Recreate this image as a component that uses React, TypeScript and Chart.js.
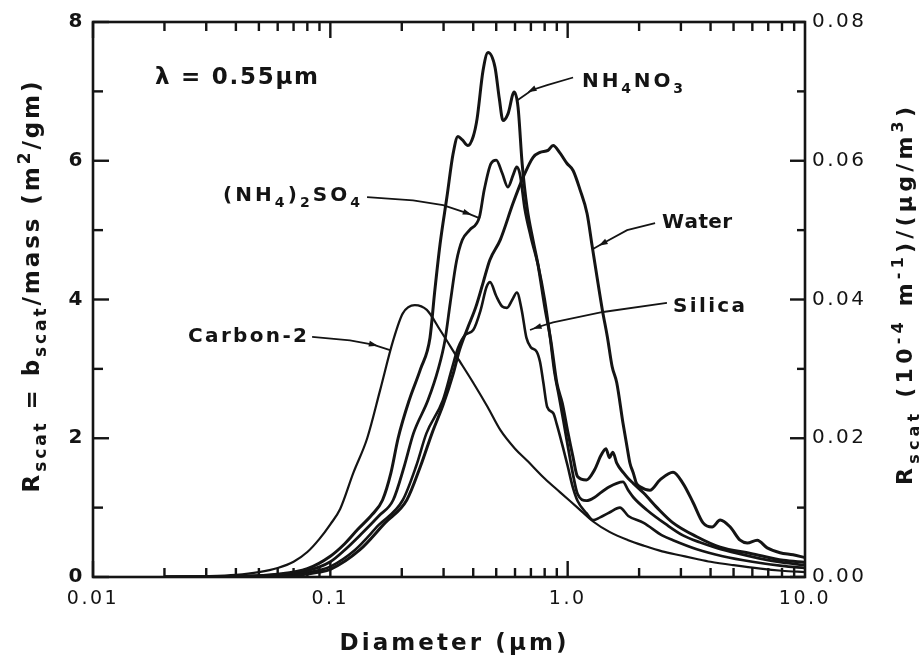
import React, { useEffect, useRef } from "react";
import { Chart, registerables } from "chart.js";

Chart.register(...registerables);

type Pt = [number, number];
type Seg = { t: string; s?: "sub" | "sup" };

// ---------- axis values ----------
const X_MIN = 0.01;
const X_MAX = 10;
const X_TICK_VALUES = [0.01, 0.1, 1, 10];
const X_TICK_LABELS = ["0.01", "0.1", "1.0", "10.0"];
const X_MINOR_MULTIPLES = [1, 2, 3, 4, 5, 6, 7, 8, 9];
const X_DECADES = [0.01, 0.1, 1];
const Y_LEFT_MAX = 8;
const Y_LEFT_STEP = 2;
const Y_RIGHT_MAX = 0.08;
const Y_RIGHT_STEP = 0.02;

// ---------- series: [diameter (µm), R_scat (m²/g)] ----------
const NH4NO3: Pt[] = [
  [0.02, 0], [0.04, 0.01], [0.06, 0.04], [0.08, 0.12], [0.1, 0.3], [0.115, 0.48], [0.13, 0.68],
  [0.15, 0.9], [0.166, 1.11], [0.18, 1.5], [0.193, 2.0], [0.215, 2.55], [0.24, 3.0], [0.263, 3.45],
  [0.275, 4.1], [0.29, 4.8], [0.31, 5.48], [0.329, 6.1], [0.345, 6.35], [0.36, 6.3], [0.38, 6.22],
  [0.4, 6.35], [0.415, 6.6], [0.44, 7.3], [0.462, 7.56], [0.494, 7.35], [0.515, 6.9], [0.534, 6.58],
  [0.561, 6.68], [0.595, 6.99], [0.618, 6.77], [0.643, 5.96], [0.674, 5.33], [0.715, 4.85],
  [0.75, 4.5], [0.8, 3.9], [0.85, 3.4], [0.9, 2.8], [0.95, 2.5], [1.0, 2.1], [1.05, 1.75],
  [1.1, 1.45], [1.2, 1.4], [1.3, 1.55], [1.38, 1.75], [1.45, 1.85], [1.5, 1.72], [1.55, 1.8],
  [1.61, 1.64], [1.72, 1.5], [1.8, 1.42], [1.89, 1.35], [2.09, 1.21], [2.38, 1.0], [2.78, 0.78],
  [3.5, 0.58], [4.39, 0.43], [5.9, 0.34], [8.1, 0.24], [10, 0.21],
];

const NH4_2SO4: Pt[] = [
  [0.02, 0], [0.04, 0.005], [0.06, 0.03], [0.08, 0.09], [0.1, 0.22], [0.115, 0.39], [0.135, 0.62],
  [0.16, 0.88], [0.184, 1.11], [0.205, 1.6], [0.224, 2.07], [0.258, 2.55], [0.285, 3.0],
  [0.304, 3.41], [0.32, 3.95], [0.34, 4.55], [0.36, 4.86], [0.386, 5.0], [0.425, 5.19],
  [0.445, 5.58], [0.475, 5.96], [0.5, 6.01], [0.53, 5.82], [0.56, 5.62], [0.59, 5.8], [0.61, 5.91],
  [0.63, 5.8], [0.66, 5.3], [0.7, 4.9], [0.75, 4.5], [0.8, 4.0], [0.84, 3.5], [0.88, 2.95],
  [0.92, 2.6], [0.96, 2.25], [1.0, 1.9], [1.05, 1.5], [1.1, 1.2], [1.2, 1.1], [1.3, 1.15],
  [1.37, 1.21], [1.5, 1.3], [1.61, 1.35], [1.71, 1.37], [1.8, 1.25], [1.89, 1.15], [2.15, 0.97],
  [2.62, 0.75], [3.06, 0.6], [3.6, 0.5], [4.24, 0.42], [5.2, 0.34], [6.4, 0.27], [8, 0.21], [10, 0.17],
];

const WATER: Pt[] = [
  [0.02, 0], [0.05, 0.003], [0.07, 0.02], [0.09, 0.07], [0.1, 0.11], [0.133, 0.39], [0.17, 0.78],
  [0.21, 1.11], [0.24, 1.6], [0.268, 2.07], [0.3, 2.5], [0.33, 2.94], [0.35, 3.27], [0.38, 3.6],
  [0.41, 3.89], [0.44, 4.24], [0.47, 4.57], [0.52, 4.86], [0.589, 5.39], [0.649, 5.76],
  [0.715, 6.05], [0.765, 6.12], [0.826, 6.15], [0.868, 6.22], [0.929, 6.11], [0.994, 5.96],
  [1.054, 5.86], [1.128, 5.58], [1.207, 5.24], [1.267, 4.78], [1.33, 4.32], [1.4, 3.85],
  [1.47, 3.46], [1.54, 3.03], [1.61, 2.8], [1.71, 2.22], [1.78, 1.87], [1.83, 1.64], [1.89, 1.5],
  [1.95, 1.35], [2.02, 1.3], [2.22, 1.25], [2.45, 1.4], [2.78, 1.51], [3.06, 1.35], [3.38, 1.07],
  [3.72, 0.78], [4.06, 0.72], [4.39, 0.82], [4.84, 0.72], [5.33, 0.53], [5.71, 0.49], [6.29, 0.53],
  [6.93, 0.42], [7.85, 0.35], [8.91, 0.32], [10, 0.28],
];

const SILICA: Pt[] = [
  [0.02, 0], [0.05, 0.005], [0.07, 0.03], [0.09, 0.1], [0.1, 0.15], [0.127, 0.39], [0.16, 0.75],
  [0.202, 1.11], [0.23, 1.6], [0.254, 2.07], [0.298, 2.55], [0.325, 3.0], [0.345, 3.3], [0.37, 3.49],
  [0.4, 3.56], [0.43, 3.85], [0.455, 4.18], [0.471, 4.25], [0.5, 4.05], [0.53, 3.9], [0.555, 3.88],
  [0.585, 4.0], [0.611, 4.1], [0.64, 3.85], [0.67, 3.45], [0.7, 3.31], [0.74, 3.25], [0.765, 3.1],
  [0.79, 2.8], [0.82, 2.45], [0.87, 2.36], [0.9, 2.2], [0.95, 1.9], [1.0, 1.6], [1.05, 1.3],
  [1.1, 1.1], [1.2, 0.92], [1.28, 0.82], [1.37, 0.86], [1.5, 0.93], [1.66, 1.0], [1.8, 0.88],
  [2.09, 0.78], [2.5, 0.6], [2.78, 0.53], [3.5, 0.4], [4.5, 0.3], [6, 0.22], [8, 0.16], [10, 0.13],
];

const CARBON_2: Pt[] = [
  [0.02, 0], [0.03, 0.01], [0.04, 0.03], [0.05, 0.07], [0.06, 0.13], [0.07, 0.22], [0.08, 0.36],
  [0.09, 0.55], [0.1, 0.76], [0.11, 0.98], [0.125, 1.5], [0.143, 2.0], [0.162, 2.69], [0.184, 3.41],
  [0.202, 3.8], [0.227, 3.92], [0.255, 3.85], [0.29, 3.56], [0.342, 3.17], [0.4, 2.8], [0.46, 2.45],
  [0.52, 2.12], [0.6, 1.85], [0.674, 1.68], [0.8, 1.42], [0.93, 1.22], [1.1, 1.0], [1.28, 0.8],
  [1.5, 0.65], [1.8, 0.53], [2.1, 0.45], [2.5, 0.37], [3.0, 0.31], [3.5, 0.26], [4.0, 0.22],
  [5.0, 0.17], [6.5, 0.12], [8.0, 0.09], [10, 0.07],
];

// ---------- styling / layout ----------
const FONT = '"DejaVu Sans", "Noto Sans", sans-serif';
const INK = "#141414";

const SERIES = [
  { name: "NH4NO3", pts: NH4NO3, width: 3 },
  { name: "(NH4)2SO4", pts: NH4_2SO4, width: 2.8 },
  { name: "Water", pts: WATER, width: 3 },
  { name: "Silica", pts: SILICA, width: 2.6 },
  { name: "Carbon-2", pts: CARBON_2, width: 2.2 },
];

type Note = {
  text: Seg[];
  at: Pt;
  size: number;
  width: number;
  leader?: Pt[];
  arrow?: number;
};

const NOTES: Note[] = [
  { text: [{ t: "λ = 0.55μm" }], at: [0.01825, 7.23], size: 23, width: 163 },
  {
    text: [{ t: "NH" }, { t: "4", s: "sub" }, { t: "NO" }, { t: "3", s: "sub" }],
    at: [1.15, 7.16], size: 20, width: 101,
    leader: [[1.054, 7.2], [0.819, 7.09], [0.708, 7.02], [0.612, 6.87]], arrow: 2,
  },
  {
    text: [{ t: "(NH" }, { t: "4", s: "sub" }, { t: ")" }, { t: "2", s: "sub" }, { t: "SO" }, { t: "4", s: "sub" }],
    at: [0.0353, 5.53], size: 20, width: 137,
    leader: [[0.1428, 5.476], [0.2232, 5.43], [0.2986, 5.36], [0.3767, 5.245], [0.4273, 5.17]], arrow: 3,
  },
  {
    text: [{ t: "Water" }], at: [2.5, 5.13], size: 20, width: 70,
    leader: [[2.335, 5.1], [1.78, 5.0], [1.41, 4.81], [1.267, 4.72]], arrow: 2,
  },
  {
    text: [{ t: "Silica" }], at: [2.78, 3.92], size: 20, width: 72,
    leader: [[2.62, 3.95], [1.41, 3.82], [0.868, 3.67], [0.745, 3.6], [0.694, 3.56]], arrow: 3,
  },
  {
    text: [{ t: "Carbon-2" }], at: [0.02514, 3.49], size: 20, width: 119,
    leader: [[0.0838, 3.46], [0.121, 3.41], [0.1513, 3.35], [0.1785, 3.27]], arrow: 2,
  },
];

const LEFT_TITLE: Seg[] = [
  { t: "R" }, { t: "scat", s: "sub" }, { t: " = b" }, { t: "scat", s: "sub" },
  { t: "/mass (m" }, { t: "2", s: "sup" }, { t: "/gm)" },
];
const RIGHT_TITLE: Seg[] = [
  { t: "R" }, { t: "scat", s: "sub" }, { t: " (10" }, { t: "-4", s: "sup" }, { t: " m" },
  { t: "-1", s: "sup" }, { t: ")/(μg/m" }, { t: "3", s: "sup" }, { t: ")" },
];
const X_TITLE: Seg[] = [{ t: "Diameter (μm)" }];

function segFont(size: number, weight: string, small: boolean) {
  return `${weight} ${small ? Math.round(size * 0.72) : size}px ${FONT}`;
}

function drawRich(
  ctx: CanvasRenderingContext2D, segs: Seg[], x: number, yc: number,
  size: number, weight: string, align: "left" | "center", targetW?: number,
) {
  (ctx as any).letterSpacing = "0px";
  let w = 0;
  let n = 0;
  for (const sg of segs) {
    ctx.font = segFont(size, weight, !!sg.s);
    for (const ch of Array.from(sg.t)) { w += ctx.measureText(ch).width; n++; }
  }
  const gap = targetW && n > 1 ? Math.max(0, (targetW - w) / (n - 1)) : 0.5;
  const total = w + gap * (n - 1);
  let cx = align === "center" ? x - total / 2 : x;
  const base = yc + size * 0.36;
  ctx.textAlign = "left";
  ctx.textBaseline = "alphabetic";
  for (const sg of segs) {
    ctx.font = segFont(size, weight, !!sg.s);
    const dy = sg.s === "sub" ? size * 0.3 : sg.s === "sup" ? -size * 0.42 : 0;
    for (const ch of Array.from(sg.t)) {
      ctx.fillText(ch, cx, base + dy);
      cx += ctx.measureText(ch).width + gap;
    }
  }
}

const spacingPlugin = {
  id: "spacing",
  beforeDraw(chart: any) {
    (chart.ctx as any).letterSpacing = "2.5px";
  },
};

const decorPlugin = {
  id: "decor",
  afterDraw(chart: any) {
    const { ctx, chartArea: a, scales } = chart;
    const sx = scales.x;
    const sy = scales.y;
    const sy1 = scales.y1;
    ctx.save();
    (ctx as any).letterSpacing = "0px";
    ctx.strokeStyle = INK;
    ctx.fillStyle = INK;

    // inward tick marks on all four sides
    const TW = 2.4;
    for (const dec of X_DECADES) {
      for (const m of X_MINOR_MULTIPLES) {
        const px = sx.getPixelForValue(dec * m);
        const len = m === 1 ? 16 : 9;
        ctx.fillRect(px - TW / 2, a.bottom - len, TW, len);
        ctx.fillRect(px - TW / 2, a.top, TW, len);
      }
    }
    for (let v = 0; v <= Y_LEFT_MAX; v++) {
      const py = sy.getPixelForValue(v);
      const len = v % 2 === 0 ? 16 : 10;
      ctx.fillRect(a.left, py - TW / 2, len, TW);
    }
    for (let k = 0; k <= 8; k++) {
      const py = sy1.getPixelForValue(k * 0.01);
      const len = k % 2 === 0 ? 15 : 8;
      ctx.fillRect(a.right - len, py - TW / 2, len, TW);
    }

    // frame
    ctx.lineWidth = 2.6;
    ctx.strokeRect(a.left, a.top, a.right - a.left, a.bottom - a.top);

    // curve labels with leader arrows
    for (const nt of NOTES) {
      const lx = sx.getPixelForValue(nt.at[0]);
      const ly = sy.getPixelForValue(nt.at[1]);
      drawRich(ctx, nt.text, lx, ly, nt.size, "bold", "left", nt.width);
      if (nt.leader) {
        const pts = nt.leader.map(([d, r]) => [sx.getPixelForValue(d), sy.getPixelForValue(r)]);
        ctx.lineWidth = 1.8;
        ctx.beginPath();
        ctx.moveTo(pts[0][0], pts[0][1]);
        for (let i = 1; i < pts.length; i++) ctx.lineTo(pts[i][0], pts[i][1]);
        ctx.stroke();
        if (nt.arrow !== undefined) {
          const i = nt.arrow;
          const p = pts[i];
          const q = pts[Math.min(i + 1, pts.length - 1)];
          const o = pts[Math.max(i - 1, 0)];
          let dx = q[0] - o[0];
          let dy = q[1] - o[1];
          const L = Math.hypot(dx, dy) || 1;
          dx /= L; dy /= L;
          const nx = -dy, ny = dx;
          ctx.beginPath();
          ctx.moveTo(p[0] + dx * 5, p[1] + dy * 5);
          ctx.lineTo(p[0] - dx * 4 + nx * 3, p[1] - dy * 4 + ny * 3);
          ctx.lineTo(p[0] - dx * 4 - nx * 3, p[1] - dy * 4 - ny * 3);
          ctx.closePath();
          ctx.fill();
        }
      }
    }

    // axis titles
    drawRich(ctx, X_TITLE, 453, 642, 23, "bold", "center", 227);
    ctx.save();
    ctx.translate(31, 287);
    ctx.rotate(-Math.PI / 2);
    drawRich(ctx, LEFT_TITLE, 0, 0, 23, "bold", "center", 411);
    ctx.restore();
    ctx.save();
    ctx.translate(904, 296);
    ctx.rotate(-Math.PI / 2);
    drawRich(ctx, RIGHT_TITLE, 0, 0, 22, "bold", "center", 378);
    ctx.restore();

    ctx.restore();
  },
};

export default function App() {
  const ref = useRef<HTMLCanvasElement | null>(null);

  useEffect(() => {
    document.body.style.margin = "0";
    document.body.style.background = "#ffffff";
    const canvas = ref.current;
    if (!canvas) return;
    const chart = new Chart(canvas, {
      type: "line",
      data: {
        datasets: SERIES.map((s) => ({
          label: s.name,
          data: s.pts.map(([x, y]) => ({ x, y })),
          borderColor: INK,
          backgroundColor: INK,
          borderWidth: s.width,
          pointRadius: 0,
          fill: false,
          cubicInterpolationMode: "monotone" as const,
          xAxisID: "x",
          yAxisID: "y",
        })),
      },
      options: {
        responsive: false,
        animation: false,
        events: [],
        layout: { padding: { top: 22, left: 0, right: 0, bottom: 0 } },
        plugins: {
          legend: { display: false },
          tooltip: { enabled: false },
          title: { display: false },
        },
        scales: {
          x: {
            type: "logarithmic",
            position: "bottom",
            min: X_MIN,
            max: X_MAX,
            afterBuildTicks: (s: any) => {
              s.ticks = X_TICK_VALUES.map((v) => ({ value: v, major: true }));
            },
            afterFit: (s: any) => { s.height = 80; },
            grid: { display: false, drawTicks: false },
            border: { display: false },
            ticks: {
              autoSkip: false,
              maxRotation: 0,
              padding: 11,
              color: INK,
              font: { family: FONT, size: 19 },
              callback: (_v: any, i: number) => X_TICK_LABELS[i],
            },
          },
          y: {
            type: "linear",
            position: "left",
            min: 0,
            max: Y_LEFT_MAX,
            afterFit: (s: any) => { s.width = 93; },
            grid: { display: false, drawTicks: false },
            border: { display: false },
            ticks: {
              stepSize: Y_LEFT_STEP,
              padding: 8,
              color: INK,
              font: { family: FONT, size: 20, weight: "bold" },
            },
          },
          y1: {
            type: "linear",
            position: "right",
            min: 0,
            max: Y_RIGHT_MAX,
            afterFit: (s: any) => { s.width = 117; },
            grid: { display: false, drawTicks: false },
            border: { display: false },
            ticks: {
              stepSize: Y_RIGHT_STEP,
              padding: 7,
              color: INK,
              font: { family: FONT, size: 20 },
              callback: (v: any) => Number(v).toFixed(2),
            },
          },
        },
      } as any,
      plugins: [spacingPlugin, decorPlugin],
    });
    return () => chart.destroy();
  }, []);

  return (
    <div style={{ width: 922, height: 657, background: "#fff" }}>
      <canvas ref={ref} width={922} height={657} style={{ display: "block", width: 922, height: 657 }} />
    </div>
  );
}
